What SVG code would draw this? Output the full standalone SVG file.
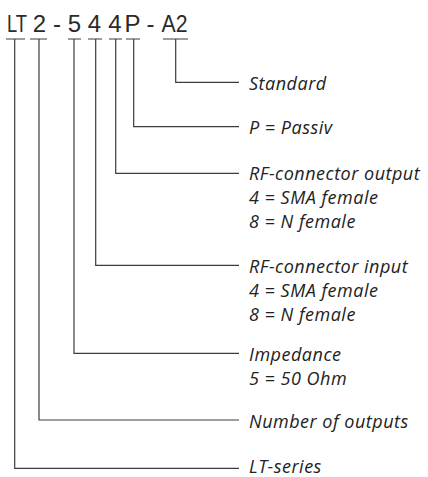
<svg xmlns="http://www.w3.org/2000/svg" width="428" height="477" viewBox="0 0 428 477">
<style>
.t{font-family:"Liberation Sans",Arial,sans-serif;font-size:24px;fill:#2a2a2a;text-anchor:middle}
.l{font-family:"Open Sans","Liberation Sans",sans-serif;font-style:italic;font-size:18px;letter-spacing:0.5px;fill:#222}
.c{fill:none;stroke:#3c3c3c;stroke-width:1.2}
</style>
<rect width="428" height="477" fill="#fff"/>
<g id="code">
<text class="t" x="17" y="32" textLength="20" lengthAdjust="spacingAndGlyphs">LT</text>
<text class="t" x="39.5" y="32">2</text>
<text class="t" x="57" y="32">-</text>
<text class="t" x="74.5" y="32">5</text>
<text class="t" x="94.5" y="32">4</text>
<text class="t" x="115" y="32">4</text>
<text class="t" x="132.5" y="32">P</text>
<text class="t" x="150.5" y="32">-</text>
<text class="t" x="174.5" y="32" textLength="26" lengthAdjust="spacingAndGlyphs">A2</text>
</g>
<g id="connectors">
<path class="c" d="M6 39H25M14.7 39V468.3H239"/>
<path class="c" d="M30 39H47M39 39V420H239"/>
<path class="c" d="M68 39H81M74 39V353.3H239"/>
<path class="c" d="M88 39H102M95.7 39V265.3H239"/>
<path class="c" d="M109 39H122M115.7 39V173.3H239"/>
<path class="c" d="M126 39H140M133.7 39V126.7H239"/>
<path class="c" d="M163 39H188M175.7 39V82.3H239"/>
</g>
<g id="standard"><text class="l" x="249" y="89.5">Standard</text></g>
<g id="passiv"><text class="l" x="249" y="134">P = Passiv</text></g>
<g id="rf-output">
<text class="l" x="249" y="179.5">RF-connector output</text>
<text class="l" x="249" y="203.5">4 = SMA female</text>
<text class="l" x="249" y="227.5">8 = N female</text>
</g>
<g id="rf-input">
<text class="l" x="249" y="272.5">RF-connector input</text>
<text class="l" x="249" y="296.5">4 = SMA female</text>
<text class="l" x="249" y="320.5">8 = N female</text>
</g>
<g id="impedance">
<text class="l" x="249" y="361">Impedance</text>
<text class="l" x="249" y="385">5 = 50 Ohm</text>
</g>
<g id="outputs"><text class="l" x="249" y="427.5">Number of outputs</text></g>
<g id="series"><text class="l" x="249" y="472.5">LT-series</text></g>
</svg>
